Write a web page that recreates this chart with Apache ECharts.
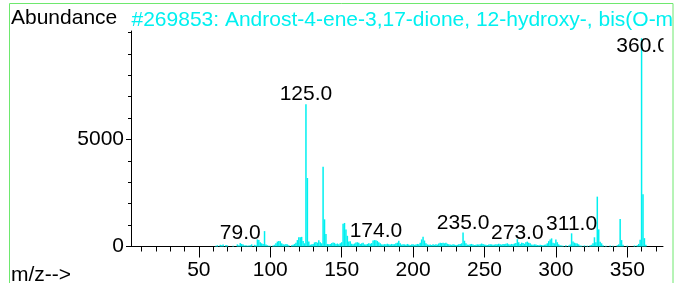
<!DOCTYPE html>
<html>
<head>
<meta charset="utf-8">
<title>Mass spectrum</title>
<script src="https://cdn.jsdelivr.net/npm/echarts@6/dist/echarts.min.js"></script>
<style>
  html, body { margin: 0; padding: 0; background: #fff; }
  #chart { width: 677px; height: 283px; }
</style>
</head>
<body>
<div id="chart"></div>
<script>
const titleText = '#269853: Androst-4-ene-3,17-dione, 12-hydroxy-, bis(O-methyloxime)'

// m/z of each line and its abundance
const mz = [
  62, 63, 65, 66, 67, 69, 70, 74, 77, 78, 79, 80, 81, 82, 83, 84, 85, 86, 87, 89,
  90, 91, 92, 93, 94, 95, 96, 97, 98, 99, 100, 102, 103, 104, 105, 106, 107, 108, 109, 110,
  111, 112, 113, 115, 116, 117, 118, 119, 120, 121, 122, 123, 124, 125, 126, 127, 128, 129, 130, 131,
  132, 133, 134, 135, 136, 137, 138, 139, 140, 141, 142, 143, 144, 145, 146, 147, 148, 149, 150, 151,
  152, 153, 154, 155, 156, 157, 158, 159, 160, 161, 162, 163, 164, 165, 166, 167, 168, 169, 170, 171,
  172, 173, 174, 175, 176, 177, 178, 179, 180, 181, 182, 183, 184, 185, 186, 187, 188, 189, 190, 191,
  192, 193, 194, 195, 196, 197, 198, 199, 200, 201, 202, 203, 204, 205, 206, 207, 208, 209, 210, 211,
  212, 213, 214, 215, 216, 217, 218, 219, 220, 221, 222, 223, 224, 225, 226, 227, 228, 229, 230, 231,
  232, 233, 234, 235, 236, 237, 238, 239, 240, 241, 242, 243, 244, 245, 246, 247, 248, 249, 250, 251,
  252, 253, 254, 255, 256, 257, 258, 259, 260, 261, 262, 263, 264, 265, 266, 267, 268, 269, 270, 271,
  272, 273, 274, 275, 276, 277, 278, 279, 280, 281, 282, 283, 284, 285, 286, 287, 288, 289, 290, 291,
  292, 293, 294, 295, 296, 297, 298, 299, 300, 301, 302, 303, 304, 305, 307, 309, 310, 311, 312, 313,
  314, 315, 316, 317, 318, 320, 322, 324, 325, 326, 327, 328, 329, 330, 331, 332, 333, 335, 338, 340,
  343, 344, 345, 346, 347, 350, 355, 357, 358, 359, 360, 361, 362, 363
]
const abundance = [
  40, 60, 80, 60, 90, 70, 50, 40, 100, 60, 160, 120, 90, 50, 60, 40, 50, 60, 100, 80,
  60, 330, 300, 200, 150, 120, 720, 90, 60, 40, 40, 50, 80, 150, 230, 260, 250, 150, 100, 90,
  120, 100, 60, 60, 80, 120, 180, 300, 430, 430, 450, 260, 150, 6650, 3200, 230, 80, 100, 120, 190,
  210, 180, 290, 200, 150, 3730, 1270, 580, 120, 100, 120, 160, 190, 170, 120, 140, 100, 150, 200, 1060,
  1100, 800, 500, 230, 250, 130, 100, 140, 190, 200, 180, 120, 150, 180, 100, 90, 120, 150, 130, 160,
  280, 300, 290, 260, 200, 150, 100, 90, 110, 100, 130, 110, 90, 120, 100, 110, 150, 180, 270, 150,
  90, 110, 100, 80, 120, 90, 70, 100, 110, 80, 90, 120, 100, 180, 330, 460, 280, 150, 100, 80,
  90, 70, 100, 80, 110, 90, 140, 170, 160, 180, 150, 170, 130, 110, 90, 80, 100, 90, 70, 80,
  110, 120, 150, 660, 270, 150, 90, 80, 100, 120, 90, 70, 80, 100, 90, 110, 140, 120, 90, 80,
  70, 90, 110, 100, 80, 90, 110, 100, 130, 100, 90, 120, 110, 130, 150, 110, 90, 120, 100, 140,
  160, 340, 200, 120, 180, 160, 130, 200, 230, 180, 150, 90, 80, 100, 90, 70, 60, 80, 70, 60,
  80, 90, 150, 250, 330, 380, 180, 150, 330, 200, 100, 60, 50, 40, 60, 50, 90, 615, 230, 180,
  150, 140, 100, 50, 40, 50, 40, 60, 80, 150, 430, 200, 2330, 800, 220, 150, 60, 40, 50, 40,
  60, 100, 1285, 300, 80, 40, 50, 60, 120, 310, 9730, 2440, 390, 80
]

// peaks that carry an m/z label
const labelledPeaks = [79, 125, 174, 235, 273, 311, 360]

const xLabelValues = [50, 100, 150, 200, 250, 300, 350]
const xMinorValues = [10, 20, 30, 40, 50, 60, 70, 80, 90, 100, 110, 120, 130, 140, 150, 160, 170, 180, 190,
  200, 210, 220, 230, 240, 250, 260, 270, 280, 290, 300, 310, 320, 330, 340, 350, 360, 370]
const yLabelValues = [0, 5000]
const yMinorValues = [0, 1000, 2000, 3000, 4000, 5000, 6000, 7000, 8000, 9000, 10000]

const font = "'Liberation Sans', Arial, sans-serif"
const cyan = '#00f0f0'
const green = '#6ee86e'

const chart = echarts.init(document.getElementById('chart'), null, { renderer: 'canvas' })

const lines = mz.map((m, i) => [m, abundance[i]])
const labelPoints = labelledPeaks.map(m => {
  const item = { value: [m, abundance[mz.indexOf(m)]] }
  // the reference places a few labels off the plain "above the peak" spot
  if (m === 273) item.label = { distance: -4 }
  if (m === 360) item.label = { offset: [1, 17] }
  return item
})

chart.setOption({
  animation: false,
  grid: {
    left: 131,
    right: 14,
    top: 31,
    bottom: 36.5,
    outerBoundsMode: 'none'
  },
  xAxis: [{
    type: 'value',
    min: 2.5,
    max: 375,
    position: 'bottom',
    axisLine: { show: true, onZero: false, lineStyle: { color: '#000', width: 1 } },
    axisTick: { show: true, customValues: xLabelValues, length: 11, lineStyle: { color: '#000' } },
    axisLabel: { customValues: xLabelValues, margin: 13, fontSize: 21, color: '#000', fontFamily: font },
    splitLine: { show: false }
  }, {
    type: 'value',
    min: 2.5,
    max: 375,
    position: 'bottom',
    axisLine: { show: false },
    axisTick: { show: true, customValues: xMinorValues, length: 5, lineStyle: { color: '#000' } },
    axisLabel: { show: false },
    splitLine: { show: false }
  }],
  yAxis: [{
    type: 'value',
    min: 0,
    max: 10070,
    position: 'left',
    axisLine: { show: true, onZero: false, lineStyle: { color: '#000', width: 1 } },
    axisTick: { show: true, customValues: yLabelValues, length: 5, lineStyle: { color: '#000' } },
    axisLabel: {
      customValues: yLabelValues, margin: 7, fontSize: 21, color: '#000', fontFamily: font,
      formatter: v => String(v)
    },
    splitLine: { show: false }
  }, {
    type: 'value',
    min: 0,
    max: 10070,
    position: 'left',
    axisLine: { show: false },
    axisTick: { show: true, customValues: yMinorValues, length: 3, lineStyle: { color: '#000' } },
    axisLabel: { show: false },
    splitLine: { show: false }
  }],
  series: [{
    name: 'Abundance',
    type: 'bar',
    xAxisIndex: 0,
    yAxisIndex: 0,
    barWidth: 1.5,
    silent: true,
    itemStyle: { color: cyan },
    data: lines
  }, {
    name: 'peak labels',
    type: 'scatter',
    xAxisIndex: 0,
    yAxisIndex: 0,
    symbolSize: 0,
    silent: true,
    z: 5,
    itemStyle: { opacity: 1 },
    label: {
      show: true,
      position: 'top',
      distance: -1,
      fontSize: 21,
      color: '#000',
      opacity: 1,
      fontFamily: font,
      formatter: p => p.value[0].toFixed(1)
    },
    data: labelPoints
  }],
  graphic: [
    {
      type: 'text', left: 11, top: 8, z: 50,
      style: { text: 'Abundance', fontSize: 21, fontFamily: font, fill: '#000' }
    },
    {
      type: 'text', left: 131.5, top: 10, z: 50,
      style: { text: titleText, fontSize: 21, fontFamily: font, fill: cyan }
    },
    {
      type: 'text', left: 11, top: 265, z: 50,
      style: { text: 'm/z-->', fontSize: 21, fontFamily: font, fill: '#000' }
    },
    // clip the 360.0 label at the end of the axis and the title at the frame
    { type: 'rect', z: 90, shape: { x: 663.5, y: 26, width: 10, height: 34 }, style: { fill: '#fff' } },
    { type: 'rect', z: 90, shape: { x: 673.5, y: 0, width: 10, height: 283 }, style: { fill: '#fff' } },
    {
      type: 'rect', z: 100,
      shape: { x: 9.5, y: 3.5, width: 663.5, height: 300 },
      style: { fill: 'none', stroke: green, lineWidth: 1 }
    }
  ]
})
</script>
</body>
</html>
